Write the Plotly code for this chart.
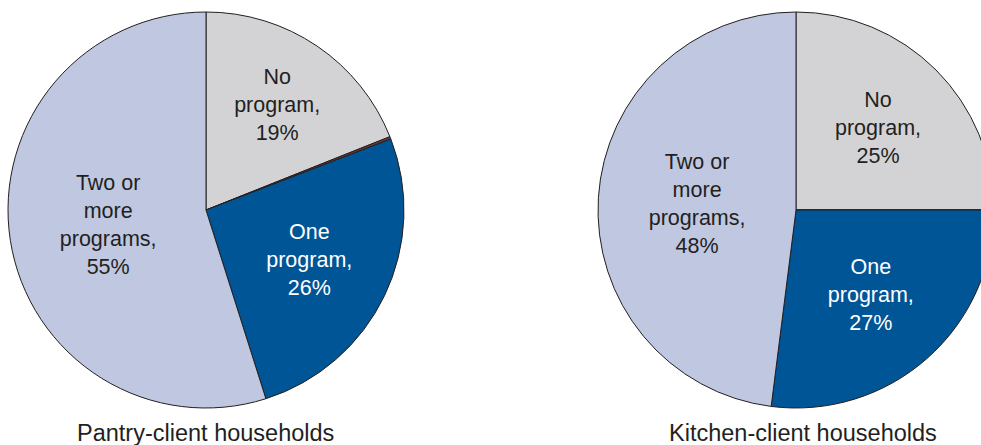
import plotly.graph_objects as go

categories = ["No program", "Other", "One program", "Two or more programs"]
pantry_share = [19, 0.2, 26, 55]
kitchen_share = [25, 0, 27, 48]
pantry_text = ["No<br>program,<br>19%", "", "One<br>program,<br>26%", "Two or<br>more<br>programs,<br>55%"]
kitchen_text = ["No<br>program,<br>25%", "", "One<br>program,<br>27%", "Two or<br>more<br>programs,<br>48%"]
captions = ["Pantry-client households", "Kitchen-client households"]

colors = ["#d3d3d5", "#6e3b2f", "#005596", "#bfc7e1"]
text_colors = ["#231f20", "#231f20", "white", "#231f20"]
W, H = 1000, 445
font = "Liberation Sans, Arial, sans-serif"

fig = go.Figure()
for vals, txt, dom in [(pantry_share, pantry_text, [8 / W, 404 / W]),
                       (kitchen_share, kitchen_text, [598 / W, 994 / W])]:
    fig.add_trace(go.Pie(
        labels=categories, values=vals, text=txt,
        textinfo="text", textposition="inside",
        insidetextorientation="horizontal",
        textfont=dict(size=21.5, color=text_colors, family=font),
        sort=False, direction="clockwise", rotation=0,
        marker=dict(colors=colors, line=dict(color="#231f20", width=1)),
        domain=dict(x=dom, y=[1 - 408 / H, 1 - 12 / H]),
        hoverinfo="label+percent", showlegend=False,
    ))

for cap, cx in zip(captions, [205, 803]):
    fig.add_annotation(text=cap, x=cx / W, y=1 - 433 / H, xref="paper", yref="paper",
                       xanchor="center", yanchor="middle", showarrow=False,
                       font=dict(size=23.5, color="#231f20", family=font))

fig.update_layout(width=W, height=H, margin=dict(l=0, r=0, t=0, b=0),
                  paper_bgcolor="white", plot_bgcolor="white",
                  uniformtext=dict(minsize=21, mode="show"))

fig.write_html("out.html", config={"displayModeBar": False},
               post_script="document.body.style.margin='0';document.body.style.overflow='hidden';")
